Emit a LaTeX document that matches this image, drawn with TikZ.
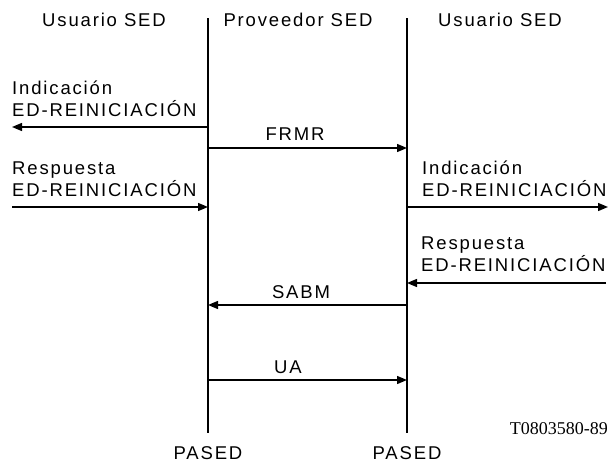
\documentclass[tikz,border=0pt]{standalone}
\usepackage{fontspec}
\setmainfont{Liberation Sans}
\newfontfamily\labfont[LetterSpace=10]{Liberation Sans}
\newfontfamily\codefont{Liberation Serif}
\usetikzlibrary{arrows.meta}
\begin{document}
\begin{tikzpicture}[x=1pt,y=-1pt,
  lab/.style={font=\labfont\fontsize{18.5}{22}\selectfont, inner sep=0pt, align=left, anchor=south west, text depth=0pt},
  head/.style={font=\labfont\fontsize{18.5}{22}\selectfont, inner sep=0pt, anchor=base},
  msg/.style={font=\labfont\fontsize{18.5}{22}\selectfont, inner sep=0pt, anchor=base},
  life/.style={line width=1.4pt},
  sig/.style={line width=1.4pt, -{Triangle[length=10pt,width=8pt]}}]
\useasboundingbox (0,0) rectangle (611,463);
% lifelines
\coordinate (Ltop) at (208,18);
\coordinate (Lbot) at (208,433);
\coordinate (Rtop) at (407,18);
\coordinate (Rbot) at (407,433);
\draw[life] (Ltop) -- (Lbot);
\draw[life] (Rtop) -- (Rbot);
% headers
\node[head] (h1) at (104,27) {Usuario SED};
\node[head] (h2) at (298,27) {Proveedor SED};
\node[head] (h3) at (500,27) {Usuario SED};
% labels
\node[lab] (t1) at (12,117) {Indicación\\ED-REINICIACIÓN};
\node[lab] (t2) at (12,197) {Respuesta\\ED-REINICIACIÓN};
\node[lab] (t3) at (422,197) {Indicación\\ED-REINICIACIÓN};
\node[lab] (t4) at (421,272) {Respuesta\\ED-REINICIACIÓN};
% arrow endpoints
\coordinate (a1s) at (208,127); \coordinate (a1e) at (12,127);
\coordinate (fs) at (208,148);  \coordinate (fe) at (407,148);
\coordinate (a2s) at (12,207);  \coordinate (a2e) at (208,207);
\coordinate (a3s) at (407,207); \coordinate (a3e) at (608,207);
\coordinate (a4s) at (606,283); \coordinate (a4e) at (407,283);
\coordinate (ss) at (407,305);  \coordinate (se) at (208,305);
\coordinate (us) at (208,380);  \coordinate (ue) at (407,380);
\draw[sig] (a1s) -- (a1e);
\draw[sig] (fs) -- (fe);
\draw[sig] (a2s) -- (a2e);
\draw[sig] (a3s) -- (a3e);
\draw[sig] (a4s) -- (a4e);
\draw[sig] (ss) -- (se);
\draw[sig] (us) -- (ue);
% message names
\node[msg] (m1) at (295,140) {FRMR};
\node[msg] (m2) at (301,298) {SABM};
\node[msg] (m3) at (288,373) {UA};
% bottom
\node[head] (p1) at (208,459) {PASED};
\node[head] (p2) at (407,459) {PASED};
\node[font=\codefont\fontsize{18}{20}\selectfont, inner sep=0pt, anchor=base east] (code) at (608,434) {T0803580-89};
\end{tikzpicture}
\end{document}
